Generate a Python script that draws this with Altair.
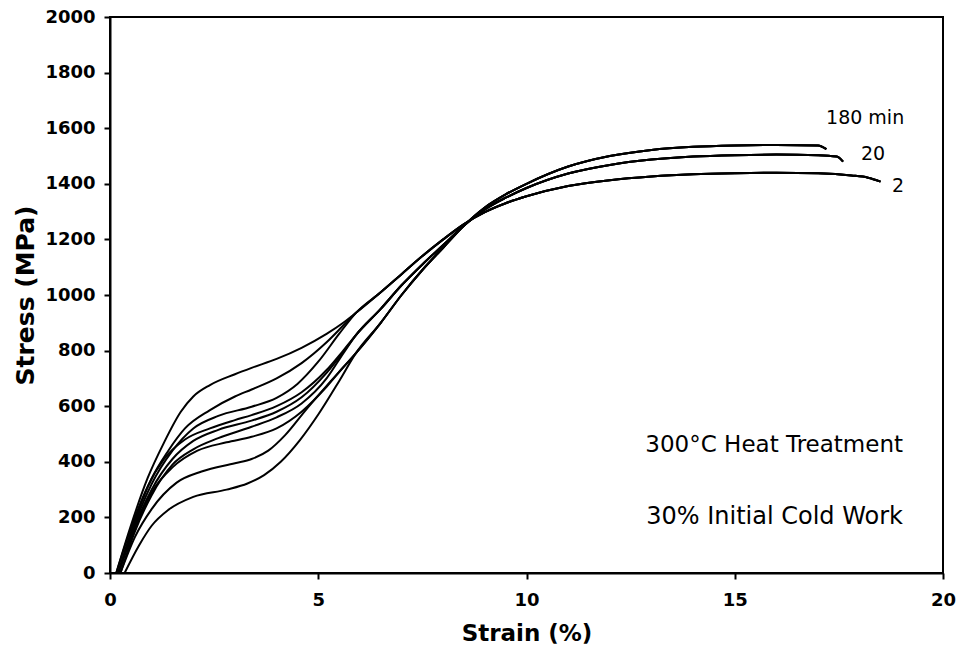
import altair as alt
import pandas as pd

# Stress-strain curves (strain %, stress MPa) after 300 °C heat treatment.
# Early portions of nine specimens, grouped by the annealing time they converge into.
t1_strain = [0.15, 0.5, 0.9, 1.3, 1.7, 2.0, 2.4, 3.0, 3.4, 4.0, 4.6, 5.2, 5.6]
t1_stress = [0, 170, 340, 470, 580, 635, 676, 715, 738, 770, 810, 860, 900]
t2_strain = [0.2, 0.6, 1.0, 1.4, 1.8, 2.4, 3.0, 3.4, 4.0, 4.6, 5.2, 5.6]
t2_stress = [0, 190, 340, 440, 520, 586, 635, 660, 700, 755, 830, 890]
t3_strain = [0.2, 0.6, 1.0, 1.5, 2.0, 2.6, 3.4, 4.0, 4.5, 5.0, 5.5]
t3_stress = [0, 180, 320, 440, 520, 565, 598, 630, 680, 760, 860]

m1_strain = [0.15, 0.5, 0.9, 1.3, 1.8, 2.4, 3.0, 3.4, 4.0, 4.6, 5.2, 5.6]
m1_stress = [0, 160, 310, 410, 480, 520, 550, 568, 600, 650, 730, 800]
m2_strain = [0.2, 0.6, 1.0, 1.5, 2.0, 2.6, 3.4, 4.0, 4.6, 5.2, 5.6]
m2_stress = [0, 170, 300, 410, 475, 515, 548, 580, 632, 720, 795]
m3_strain = [0.25, 0.6, 1.0, 1.5, 2.0, 2.6, 3.4, 4.0, 4.6, 5.2, 5.6]
m3_stress = [0, 150, 280, 390, 445, 485, 526, 560, 610, 700, 790]

b1_strain = [0.2, 0.6, 1.0, 1.5, 2.1, 2.8, 3.4, 4.0, 4.6, 5.2, 5.6]
b1_stress = [0, 160, 290, 380, 440, 470, 490, 520, 580, 670, 740]
b2_strain = [0.25, 0.6, 1.0, 1.6, 2.2, 3.0, 3.4, 3.8, 4.2, 4.7, 5.3]
b2_stress = [0, 130, 230, 325, 365, 395, 410, 440, 495, 586, 690]
b3_strain = [0.35, 0.7, 1.0, 1.4, 2.0, 2.8, 3.3, 3.7, 4.1, 4.56, 5.0, 5.5]
b3_stress = [0, 100, 170, 227, 274, 300, 322, 352, 400, 478, 570, 690]

# Shared upper branches, one per annealing time
tail_2_strain = [5.9, 6.5, 7.0, 7.5, 8.0, 8.5, 9.0, 9.5, 10, 11, 12, 13, 14, 15, 16, 17, 17.8, 18.2, 18.5]
tail_2_stress = [935, 1010, 1075, 1140, 1200, 1255, 1298, 1330, 1355, 1392, 1413, 1426, 1434, 1438, 1440, 1438, 1430, 1422, 1408]
tail_20_strain = [5.9, 6.5, 7.0, 7.5, 8.0, 8.5, 9.0, 9.5, 10, 11, 12, 13, 14, 15, 16, 17, 17.45, 17.6]
tail_20_stress = [855, 950, 1035, 1110, 1180, 1250, 1308, 1350, 1385, 1437, 1468, 1487, 1498, 1503, 1505, 1503, 1498, 1480]
tail_180_strain = [5.9, 6.5, 7.0, 7.5, 8.0, 8.5, 9.0, 9.5, 10, 11, 12, 13, 14, 15, 16, 17, 17.2]
tail_180_stress = [790, 900, 1000, 1090, 1170, 1250, 1315, 1362, 1400, 1462, 1500, 1522, 1533, 1538, 1540, 1538, 1525]

label_text = ["180 min", "20", "2"]
label_strain = [18.13, 18.32, 18.92]
label_stress = [1635, 1508, 1392]

note_text = ["300°C Heat Treatment", "30% Initial Cold Work"]
note_strain = [19.04, 19.04]
note_stress = [462, 200]
note_size = [23, 24]

specimens = [
    ("t1", t1_strain, t1_stress, tail_2_strain, tail_2_stress),
    ("t2", t2_strain, t2_stress, tail_2_strain, tail_2_stress),
    ("t3", t3_strain, t3_stress, tail_2_strain, tail_2_stress),
    ("m1", m1_strain, m1_stress, tail_20_strain, tail_20_stress),
    ("m2", m2_strain, m2_stress, tail_20_strain, tail_20_stress),
    ("m3", m3_strain, m3_stress, tail_20_strain, tail_20_stress),
    ("b1", b1_strain, b1_stress, tail_180_strain, tail_180_stress),
    ("b2", b2_strain, b2_stress, tail_180_strain, tail_180_stress),
    ("b3", b3_strain, b3_stress, tail_180_strain, tail_180_stress),
]

rows = []
for name, xs, ys, txs, tys in specimens:
    for x, y in zip(xs + txs, ys + tys):
        rows.append({"specimen": name, "strain": x, "stress": y})
curves = pd.DataFrame(rows)

labels = pd.DataFrame({"text": label_text, "strain": label_strain, "stress": label_stress})
notes = pd.DataFrame({"text": note_text, "strain": note_strain, "stress": note_stress,
                      "size": note_size})

font = "DejaVu Sans"

x_enc = alt.X(
    "strain:Q",
    scale=alt.Scale(domain=[0, 20], nice=False, zero=True),
    axis=alt.Axis(
        title="Strain (%)", values=[0, 5, 10, 15, 20], format="d", grid=False,
        titleFontSize=23, titleFontWeight="bold", titlePadding=13,
        labelFontSize=18, labelFontWeight="bold", labelPadding=12, tickSize=6,
        labelFlush=False,
    ),
)
y_enc = alt.Y(
    "stress:Q",
    scale=alt.Scale(domain=[0, 2000], nice=False),
    axis=alt.Axis(
        title="Stress (MPa)", values=list(range(0, 2001, 200)), format="d", grid=False,
        titleFontSize=25, titleFontWeight="bold", titlePadding=6,
        labelFontSize=18, labelFontWeight="bold", labelPadding=9, tickSize=6,
        labelFlush=False,
    ),
)

lines = alt.Chart(curves).mark_line(
    interpolate="monotone", color="black", strokeWidth=2
).encode(x=x_enc, y=y_enc, detail="specimen:N")

time_labels = alt.Chart(labels).mark_text(
    align="center", baseline="middle", fontSize=19, font=font, color="black"
).encode(x="strain:Q", y="stress:Q", text="text:N")

note_labels = alt.Chart(notes).mark_text(
    align="right", baseline="middle", font=font, color="black"
).encode(
    x="strain:Q", y="stress:Q", text="text:N",
    size=alt.Size("size:Q", scale=None, legend=None),
)

chart = (
    alt.layer(lines, time_labels, note_labels)
    .properties(
        width=833, height=556,
        autosize=alt.AutoSizeParams(type="none"),
        padding={"left": 110, "top": 17, "right": 18, "bottom": 79},
        background="white",
    )
    .configure_view(stroke="black", strokeWidth=2)
    .configure_axis(
        domainColor="black", domainWidth=2, tickColor="black", tickWidth=2,
        labelColor="black", titleColor="black", labelFont=font, titleFont=font,
    )
)

chart.save("out.html", embed_options={"renderer": "svg", "actions": False})
